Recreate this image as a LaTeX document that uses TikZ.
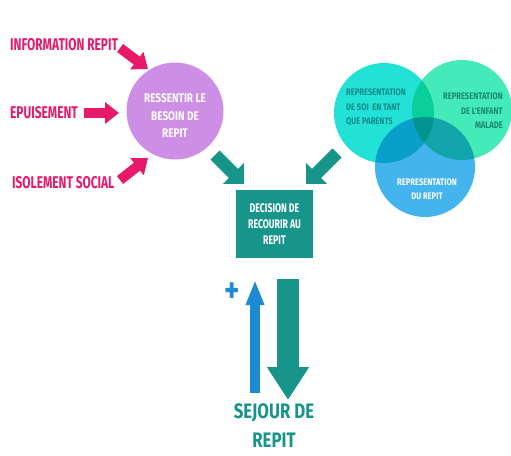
\documentclass[tikz,border=0pt]{standalone}
\usepackage{fontspec}
\newfontfamily\dinfont{Fira Sans}[FakeStretch=0.70]
\newfontfamily\dinwide{Fira Sans}[FakeStretch=0.80]
\usetikzlibrary{arrows.meta}

\definecolor{repitpink}{HTML}{E8196B}
\definecolor{besoinmauve}{HTML}{CD8FE6}
\definecolor{decteal}{HTML}{17958A}
\definecolor{soicyan}{HTML}{22E2D8}
\definecolor{enfantgreen}{HTML}{44EBB8}
\definecolor{repitblue}{HTML}{44B4EE}
\definecolor{upblue}{HTML}{1C8BD2}
\definecolor{soitext}{HTML}{138C88}
\definecolor{enfanttext}{HTML}{1A8A70}

\begin{document}
\begin{tikzpicture}[x=1pt,y=-1pt,
	cause/.style={anchor=west,text=repitpink,inner sep=0pt,
		font=\dinfont\bfseries\fontsize{17}{18}\selectfont},
	push/.style={repitpink,line width=10pt,-{Triangle[length=14pt,width=21pt]}},
	lead/.style={decteal,line width=13pt,-{Triangle[length=15pt,width=29pt]}},
	venn/.style={circle,minimum size=100pt,inner sep=0pt,blend mode=multiply},
	small/.style={inner sep=0pt,font=\dinwide\bfseries\fontsize{9.5}{14.5}\selectfont}]
	\useasboundingbox (0,0) rectangle (511,455);

	% the three causes
	\node[cause] (info) at (10,45) {INFORMATION REPIT};
	\node[cause] (epuis) at (10,113) {EPUISEMENT};
	\node[cause] (isol) at (12,183) {ISOLEMENT SOCIAL};

	\node[circle,fill=besoinmauve,minimum size=97pt,inner sep=0pt] (besoin) at (175,111) {};
	\node[text=white,align=center,inner sep=0pt,
		font=\dinwide\bfseries\fontsize{12.5}{17.5}\selectfont] (besoin-t) at (175,116)
		{RESSENTIR LE\\BESOIN DE\\REPIT};

	\coordinate (info-a) at (120,48);   \coordinate (info-b) at (148,69);
	\coordinate (epuis-a) at (84,113);  \coordinate (epuis-b) at (119,113);
	\coordinate (isol-a) at (120,180);  \coordinate (isol-b) at (148,158);
	\draw[push] (info-a) -- (info-b);
	\draw[push] (epuis-a) -- (epuis-b);
	\draw[push] (isol-a) -- (isol-b);

	% representations
	\node[venn,fill=soicyan] (soi) at (384,113) {};
	\node[venn,fill=enfantgreen] (enfant) at (462,110) {};
	\node[venn,fill=repitblue] (repit) at (425,167) {};
	\node[small,text=soitext,align=left,anchor=north west] (soi-t) at (346,89)
		{REPRESENTATION\\DE SOI\ \ EN TANT\\QUE PARENTS};
	\node[small,text=enfanttext,align=right,anchor=north east] (enfant-t) at (503,93)
		{REPRESENTATION\\DE L'ENFANT\\MALADE};
	\node[small,text=white,align=center] (repit-t) at (427,189)
		{REPRESENTATION\\DU REPIT};

	% decision
	\node[fill=decteal,minimum width=77pt,minimum height=68pt,inner sep=0pt,text=white,align=center,
		font=\dinfont\bfseries\fontsize{12.5}{16}\selectfont] (decision) at (274.5,224)
		{DECISION DE\\RECOURIR AU\\REPIT};

	\coordinate (lead-l) at (215,155); \coordinate (lead-lb) at (244,184);
	\coordinate (lead-r) at (337,153); \coordinate (lead-rb) at (306,184);
	\draw[lead] (lead-l) -- (lead-lb);
	\draw[lead] (lead-r) -- (lead-rb);

	% stay
	\coordinate (up-a) at (255,393); \coordinate (up-b) at (255,280);
	\coordinate (down-a) at (288,279); \coordinate (down-b) at (288,400);
	\draw[upblue,line width=10pt,-{Triangle[length=25pt,width=17pt]}] (up-a) -- (up-b);
	\draw[decteal,line width=22pt,-{Triangle[length=33pt,width=40pt]}] (down-a) -- (down-b);
	\node[text=upblue,inner sep=0pt,font=\dinwide\bfseries\fontsize{36}{36}\selectfont] (plus) at (232,293) {+};

	\node[text=decteal,align=center,
		font=\dinwide\bfseries\fontsize{21}{29}\selectfont] (sejour) at (274,426)
		{SEJOUR DE\\REPIT};
\end{tikzpicture}
\end{document}
